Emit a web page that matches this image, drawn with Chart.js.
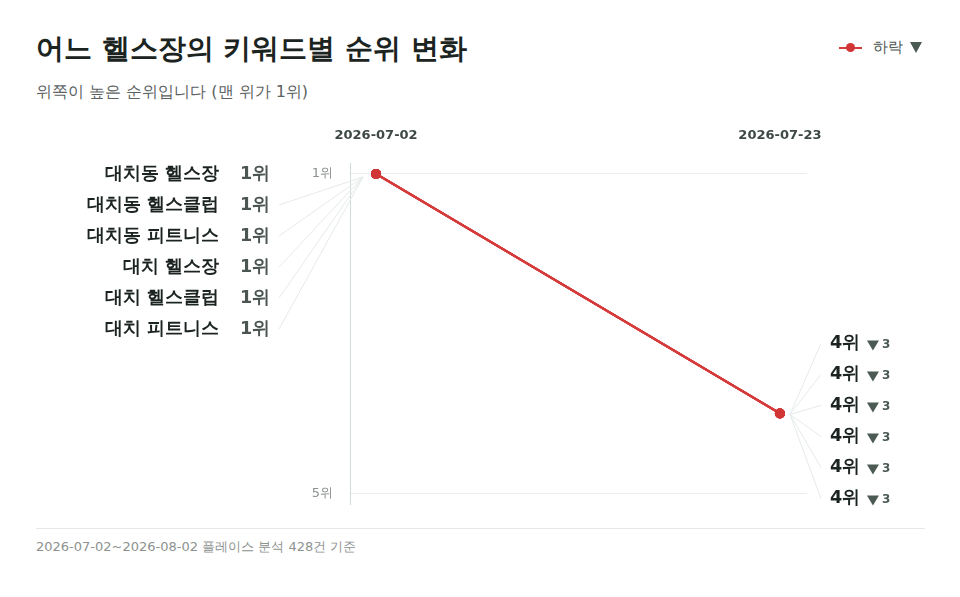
<!DOCTYPE html>
<html lang="ko">
<head>
<meta charset="utf-8">
<script src="https://cdn.jsdelivr.net/npm/chart.js@4.4.1/dist/chart.umd.min.js"></script>
<style>
  body { margin: 0; background: #fff; font-family: 'DejaVu Sans', sans-serif; }
  .wrap { position: relative; width: 960px; height: 597px; overflow: hidden; }
  .title { position: absolute; left: 36px; top: 30px; font-size: 28px; font-weight: 700; color: #1b2421; }
  .subtitle { position: absolute; left: 36px; top: 82px; font-size: 16px; color: #5b625f; }
  .legend { position: absolute; right: 38px; top: 38px; font-size: 15px; color: #4a5450; display: flex; align-items: center; }
  .legend .mark { position: relative; width: 23px; height: 2px; background: #d63b3b; margin-right: 11px; }
  .legend .mark::after { content: ''; position: absolute; left: 7px; top: -4px; width: 9px; height: 9px; border-radius: 50%; background: #d13535; }
  .legend .tri { width: 0; height: 0; border-left: 6px solid transparent; border-right: 6px solid transparent; border-top: 11px solid #4b5a53; margin-left: 7px; }
  .chart { position: absolute; left: 0; top: 110px; width: 960px; height: 419px; }
  .sep { position: absolute; left: 36px; top: 528px; width: 889px; height: 1px; background: #e6e9e7; }
  .footer { position: absolute; left: 36px; top: 538px; font-size: 13px; color: #8d928f; }
</style>
</head>
<body>
<div class="wrap">
  <div class="title">어느 헬스장의 키워드별 순위 변화</div>
  <div class="subtitle">위쪽이 높은 순위입니다 (맨 위가 1위)</div>
  <div class="legend"><span class="mark"></span><span>하락</span><span class="tri"></span></div>
  <div class="chart"><canvas id="slope-chart" width="960" height="419"></canvas></div>
  <div class="sep"></div>
  <div class="footer">2026-07-02~2026-08-02 플레이스 분석 428건 기준</div>
</div>
<script>
const dates = ['2026-07-02', '2026-07-23']
const keywords = ['대치동 헬스장', '대치동 헬스클럽', '대치동 피트니스', '대치 헬스장', '대치 헬스클럽', '대치 피트니스']
const startRanks = [1, 1, 1, 1, 1, 1]
const endRanks = [4, 4, 4, 4, 4, 4]
const rankTicks = [1, 5]

const lineColor = '#d63b3b'
const pointColor = '#d13535'
const font = "'DejaVu Sans', sans-serif"

const datasets = keywords.map(function (name, i) {
  return {
    label: name,
    data: [
      { x: 0, y: startRanks[i] },
      { x: 1, y: endRanks[i] },
    ],
    borderColor: lineColor,
    backgroundColor: pointColor,
    borderWidth: 2,
    pointRadius: 5,
    pointHoverRadius: 5,
    pointBorderWidth: 0,
  }
})

const labelPlugin = {
  id: 'slopeLabels',
  beforeDatasetsDraw (chart) {
    const ctx = chart.ctx
    const xs = chart.scales.x
    const ys = chart.scales.y
    ctx.save()
    ctx.strokeStyle = '#e4ebe8'
    ctx.lineWidth = 1
    // left leader lines
    const lx = xs.getPixelForValue(0)
    const ly = ys.getPixelForValue(startRanks[0])
    keywords.forEach(function (k, i) {
      const rowY = ly + i * 31
      if (i === 0) return
      ctx.beginPath()
      ctx.moveTo(lx - 97, rowY)
      ctx.lineTo(lx - 13, ly + 3)
      ctx.stroke()
    })
    // right leader lines
    const rx = xs.getPixelForValue(1)
    const ry = ys.getPixelForValue(endRanks[0])
    keywords.forEach(function (k, i) {
      const rowY = ry - 70 + i * 31
      ctx.beginPath()
      ctx.moveTo(rx + 10, ry + 1)
      ctx.lineTo(rx + 41, rowY)
      ctx.stroke()
    })
    ctx.restore()
  },
  afterDatasetsDraw (chart) {
    const ctx = chart.ctx
    const xs = chart.scales.x
    const ys = chart.scales.y
    ctx.save()
    ctx.textBaseline = 'middle'

    // date headers
    ctx.font = 'bold 13px ' + font
    ctx.fillStyle = '#3e4945'
    ctx.textAlign = 'center'
    dates.forEach(function (d, i) {
      ctx.fillText(d, xs.getPixelForValue(i), chart.chartArea.top - 27)
    })

    // left labels
    const lx = xs.getPixelForValue(0)
    const ly = ys.getPixelForValue(startRanks[0])
    keywords.forEach(function (k, i) {
      const rowY = ly + i * 31
      ctx.textAlign = 'right'
      ctx.font = 'bold 17.6px ' + font
      ctx.fillStyle = '#1b2421'
      ctx.fillText(k, lx - 157, rowY)
      ctx.textAlign = 'left'
      ctx.fillStyle = '#4b5652'
      ctx.fillText(startRanks[i] + '위', lx - 136, rowY)
    })

    // right labels
    const rx = xs.getPixelForValue(1)
    const ry = ys.getPixelForValue(endRanks[0])
    keywords.forEach(function (k, i) {
      const rowY = ry - 70 + i * 31
      ctx.textAlign = 'left'
      ctx.font = 'bold 17.6px ' + font
      ctx.fillStyle = '#1b2421'
      ctx.fillText(endRanks[i] + '위', rx + 50, rowY)
      const tx = rx + 87
      ctx.fillStyle = '#4b5a53'
      ctx.beginPath()
      ctx.moveTo(tx, rowY - 3)
      ctx.lineTo(tx + 12, rowY - 3)
      ctx.lineTo(tx + 6, rowY + 7)
      ctx.closePath()
      ctx.fill()
      ctx.font = 'bold 12px ' + font
      ctx.fillText(String(endRanks[i] - startRanks[i]), rx + 102, rowY + 1)
    })
    ctx.restore()
  },
}

const config = {
  type: 'line',
  data: { datasets: datasets },
  options: {
    responsive: false,
    animation: false,
    layout: {
      padding: { left: 0, right: 153, top: 53, bottom: 5 },
    },
    plugins: {
      legend: { display: false },
      tooltip: { enabled: false },
    },
    scales: {
      x: {
        type: 'linear',
        display: false,
        min: -0.0645,
        max: 1.067,
      },
      y: {
        type: 'linear',
        reverse: true,
        min: 0.8625,
        max: 5.1375,
        afterBuildTicks: function (scale) {
          scale.ticks = rankTicks.map(function (v) { return { value: v } })
        },
        afterFit: function (scale) {
          scale.width = 350
        },
        border: { display: true, color: '#cfdcd7', width: 1 },
        grid: { color: '#e8eeec', drawTicks: false },
        ticks: {
          padding: 17,
          color: '#8d928f',
          font: { size: 13, family: font },
          callback: function (v) { return v + '위' },
        },
      },
    },
  },
  plugins: [labelPlugin],
}

const ctx = document.getElementById('slope-chart').getContext('2d')
const myChart = new Chart(ctx, config)
</script>
</body>
</html>
